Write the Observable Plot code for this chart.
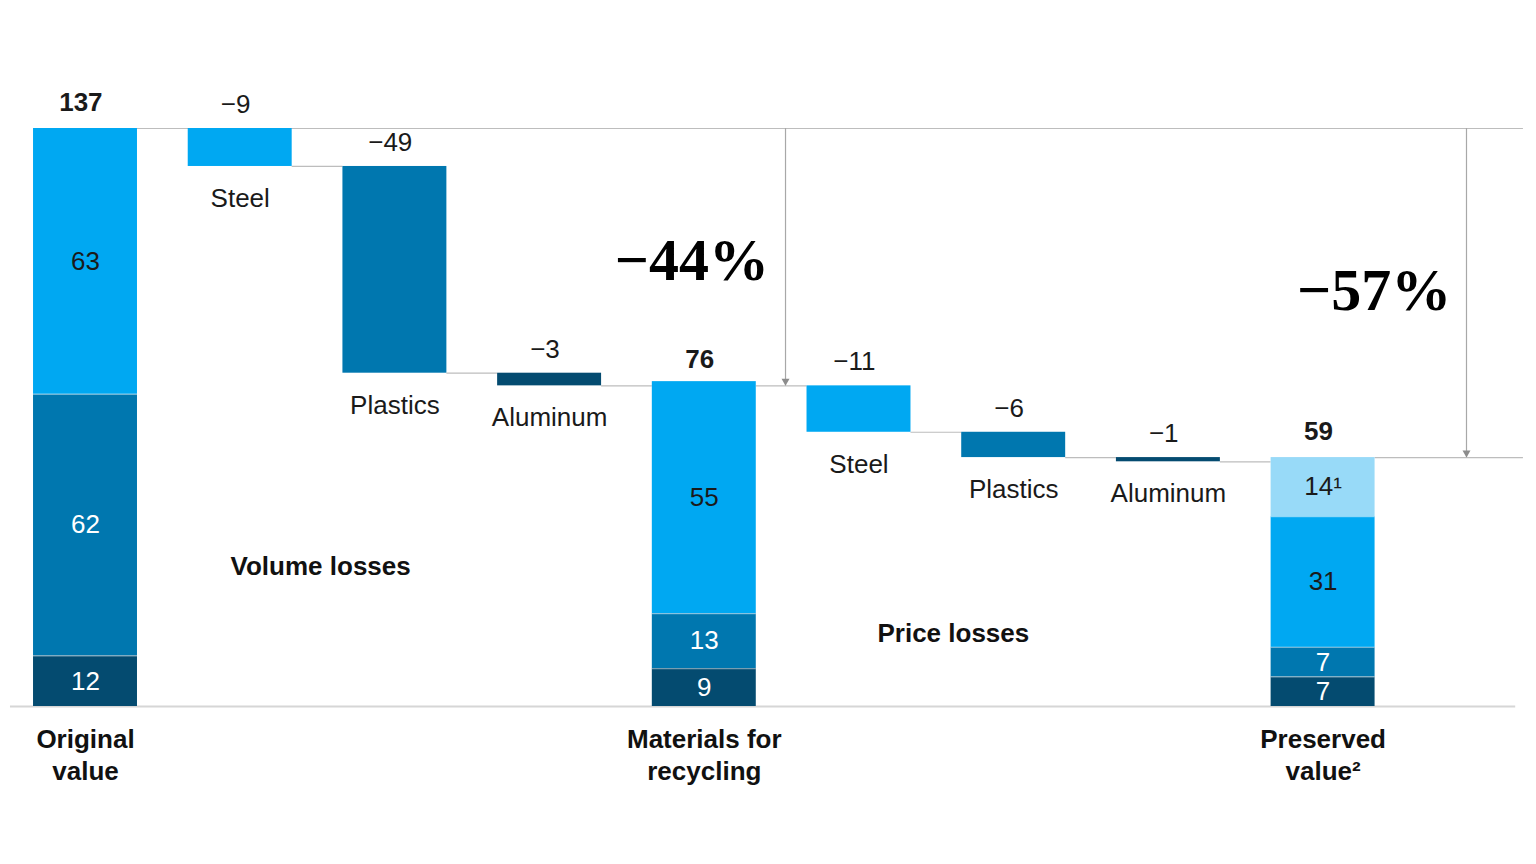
<!DOCTYPE html>
<html>
<head>
<meta charset="utf-8">
<script src="https://cdn.jsdelivr.net/npm/d3@7"></script>
<script src="https://cdn.jsdelivr.net/npm/@observablehq/plot@0.6"></script>
<style>
  html, body { margin: 0; padding: 0; background: #fff; }
  #chart svg { display: block; overflow: visible; }
</style>
</head>
<body>
<div id="chart"></div>
<script>
// ---- Data ----
const categories = ["Original\nvalue", "Steel", "Plastics", "Aluminum", "Materials for\nrecycling", "Steel", "Plastics", "Aluminum", "Preserved\nvalue²"];
const stackMaterials = ["Aluminum", "Plastics", "Steel", "Other"]; // bottom to top
const originalStack = [12, 62, 63];
const recyclingStack = [9, 13, 55];
const preservedStack = [7, 7, 31, 14];
const preservedFootnote = ["", "", "", "¹"];
const volumeLosses = [-9, -49, -3];
const priceLosses = [-11, -6, -1];
const totals = [137, 76, 59];
const groupLabels = ["Volume losses", "Price losses"];
const changeLabels = ["−44%", "−57%"];

const colors = { Steel: "#00A8F2", Plastics: "#0077AF", Aluminum: "#044B70", Other: "#98DAF8" };
const darkText = new Set(["Steel", "Other"]);
const fmt = v => (v < 0 ? "−" + Math.abs(v) : String(v));

// ---- Build tables ----
const totalIdx = [0, 4, 8];
const stacks = [originalStack, recyclingStack, preservedStack];
const segs = [];
stacks.forEach((st, k) => {
  let acc = 0;
  st.forEach((v, j) => {
    segs.push({ i: totalIdx[k], y1: acc, y2: acc + v, material: stackMaterials[j],
      label: v + (k === 2 ? preservedFootnote[j] : "") });
    acc += v;
  });
});
const floats = [];
[[volumeLosses, totals[0], 1], [priceLosses, totals[1], 5]].forEach(([arr, start, i0]) => {
  let level = start;
  arr.forEach((d, j) => {
    floats.push({ i: i0 + j, top: level, bottom: level + d, material: stackMaterials[2 - j], value: d, name: categories[i0 + j] });
    level += d;
  });
});
// connector levels between consecutive bars
const levels = [];
floats.forEach(f => levels.push({ from: f.i, y: f.bottom }));
levels.push({ from: 4, y: totals[1] });
const totalBars = totalIdx.map((i, k) => ({ i, value: totals[k], name: categories[i] }));

const hw = 0.336; // half bar width in band units
const innerBoundaries = segs.filter(s => s.y1 > 0);
const down = { draw(ctx) { ctx.moveTo(-4, -7); ctx.lineTo(4, -7); ctx.lineTo(0, 0); ctx.closePath(); } };

const chart = Plot.plot({
  width: 1536,
  height: 864,
  marginTop: 128,
  marginBottom: 158,
  marginLeft: 0,
  marginRight: 0,
  style: { fontFamily: "'Liberation Sans', Arial, sans-serif", fontSize: "26px", color: "#111", background: "#fff" },
  x: { type: "linear", domain: [-0.5495, 9.3795], axis: null },
  y: { domain: [0, 137], range: [706, 128], axis: null },
  marks: [
    // baseline
    Plot.ruleY([0], { x1: -0.485, x2: 9.245, stroke: "#D6D6D6", strokeWidth: 2 }),
    // top line and final line
    Plot.ruleY([totals[0]], { x1: hw, x2: 9.295, stroke: "#BDBDBD", strokeWidth: 1.2 }),
    Plot.ruleY([totals[2]], { x1: 8 + hw, x2: 9.295, stroke: "#BDBDBD", strokeWidth: 1.2 }),
    // connectors
    Plot.ruleY(levels, { y: "y", x1: d => d.from + hw, x2: d => d.from + 1 - hw, stroke: "#BDBDBD", strokeWidth: 1.2 }),
    // arrows
    Plot.ruleX([4.525], { y1: totals[0], y2: totals[1], stroke: "#A8A8A8", strokeWidth: 1.2 }),
    Plot.ruleX([8.927], { y1: totals[0], y2: totals[2], stroke: "#A8A8A8", strokeWidth: 1.2 }),
    Plot.dot([[4.525, totals[1]], [8.927, totals[2]]], { x: d => d[0], y: d => d[1], symbol: down, fill: "#8C8C8C", stroke: null }),
    // stacked total bars
    Plot.rectY(segs, { x1: d => d.i - hw, x2: d => d.i + hw, y1: "y1", y2: "y2", fill: d => colors[d.material] }),
    Plot.ruleY(innerBoundaries, { y: "y1", x1: d => d.i - hw, x2: d => d.i + hw, stroke: "#ffffff", strokeOpacity: 0.45, strokeWidth: 1.2 }),
    // floating bars
    Plot.rectY(floats, { x1: d => d.i - hw, x2: d => d.i + hw, y1: "bottom", y2: "top", fill: d => colors[d.material] }),
    // segment labels
    Plot.text(segs, { x: "i", y: d => (d.y1 + d.y2) / 2, text: "label", fill: d => darkText.has(d.material) ? "#1a1a1a" : "#ffffff" }),
    // total labels
    Plot.text(totalBars, { x: d => d.i - 0.03, y: "value", text: d => String(d.value), dy: -26, fontWeight: "bold", fill: "#1a1a1a" }),
    // delta labels
    Plot.text(floats, { x: d => d.i - 0.03, y: "top", text: d => fmt(d.value), dy: -24, fill: "#1a1a1a" }),
    // floating bar names
    Plot.text(floats, { x: "i", y: "bottom", text: "name", dy: 32, fill: "#1a1a1a" }),
    // category labels
    Plot.text(totalBars, { x: "i", y: 0, text: "name", dy: 47, fontWeight: "bold", lineHeight: 1.23, fill: "#111" }),
    // group labels
    Plot.text([groupLabels[0]], { x: 1.52, y: 33.2, text: d => d, fontWeight: "bold", fill: "#111" }),
    Plot.text([groupLabels[1]], { x: 5.61, y: 17.3, text: d => d, fontWeight: "bold", fill: "#111" }),
    // percent change labels
    Plot.text([changeLabels[0]], { x: 3.92, y: 105.7, text: d => d, fontFamily: "'Liberation Serif', 'DejaVu Serif', serif", fontWeight: "bold", fontSize: 60, fill: "#000" }),
    Plot.text([changeLabels[1]], { x: 8.33, y: 98.6, text: d => d, fontFamily: "'Liberation Serif', 'DejaVu Serif', serif", fontWeight: "bold", fontSize: 60, fill: "#000" })
  ]
});
document.getElementById("chart").append(chart);
</script>
</body>
</html>
